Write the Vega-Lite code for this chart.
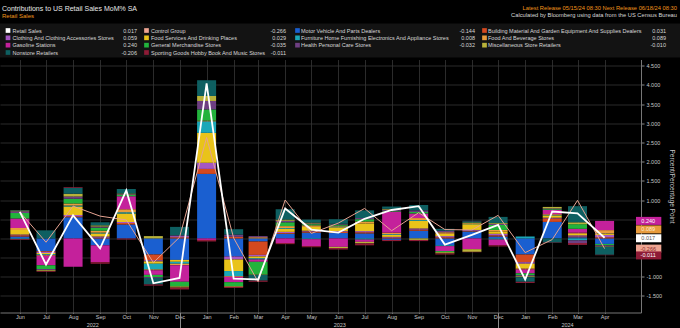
{
  "$schema": "https://vega.github.io/schema/vega-lite/v6.json",
  "background": "#000000",
  "padding": {"top": 4.5, "left": 0, "right": 0, "bottom": 0},
  "spacing": 2,
  "config": {
    "view": {"stroke": null},
    "font": "Liberation Sans",
    "title": {"fontWeight": "normal", "font": "Liberation Sans", "subtitleFont": "Liberation Sans"},
    "axis": {"labelFont": "Liberation Sans", "titleFont": "Liberation Sans", "titleFontWeight": "normal"}
  },
  "title": {"text": "Contributions to US Retail Sales MoM% SA", "subtitle": "Retail Sales", "anchor": "start", "frame": "group", "fontSize": 7, "color": "#e8e8e8", "subtitleColor": "#f0961c", "subtitleFontSize": 6, "subtitlePadding": 1, "offset": -14.5, "dx": 2},
  "datasets": {
    "names": [
      {"s": "RS", "name": "Retail Sales"},
      {"s": "CG", "name": "Control Group"},
      {"s": "MV", "name": "Motor Vehicle And Parts Dealers"},
      {"s": "BM", "name": "Building Material And Garden Equipment And Supplies Dealers"},
      {"s": "CL", "name": "Clothing And Clothing Accessories Stores"},
      {"s": "FS", "name": "Food Services And Drinking Places"},
      {"s": "FU", "name": "Furniture Home Furnishing Electronics And Appliance Stores"},
      {"s": "FB", "name": "Food And Beverage Stores"},
      {"s": "GS", "name": "Gasoline Stations"},
      {"s": "GM", "name": "General Merchandise Stores"},
      {"s": "HP", "name": "Health Personal Care Stores"},
      {"s": "MI", "name": "Miscellaneous Store Retailers"},
      {"s": "NS", "name": "Nonstore Retailers"},
      {"s": "SG", "name": "Sporting Goods Hobby Book And Music Stores"}
    ],
    "main": [
      {"d": "2022-06-01", "s": "RS", "v": 0.69}, {"d": "2022-06-01", "s": "CG", "v": 0.69}, {"d": "2022-06-01", "s": "MV", "v": 0.05}, {"d": "2022-06-01", "s": "BM", "v": 0.03}, {"d": "2022-06-01", "s": "CL", "v": 0.02}, {"d": "2022-06-01", "s": "FS", "v": 0.12}, {"d": "2022-06-01", "s": "FU", "v": -0.02}, {"d": "2022-06-01", "s": "FB", "v": 0.05}, {"d": "2022-06-01", "s": "GS", "v": 0.25}, {"d": "2022-06-01", "s": "GM", "v": 0.14}, {"d": "2022-06-01", "s": "HP", "v": 0.05}, {"d": "2022-06-01", "s": "MI", "v": 0.02}, {"d": "2022-06-01", "s": "NS", "v": 0.01}, {"d": "2022-06-01", "s": "SG", "v": -0.02},
      {"d": "2022-07-01", "s": "RS", "v": -0.68}, {"d": "2022-07-01", "s": "CG", "v": -0.10}, {"d": "2022-07-01", "s": "MV", "v": -0.33}, {"d": "2022-07-01", "s": "BM", "v": -0.02}, {"d": "2022-07-01", "s": "CL", "v": -0.03}, {"d": "2022-07-01", "s": "FS", "v": -0.03}, {"d": "2022-07-01", "s": "FU", "v": -0.02}, {"d": "2022-07-01", "s": "FB", "v": -0.02}, {"d": "2022-07-01", "s": "GS", "v": -0.25}, {"d": "2022-07-01", "s": "GM", "v": -0.10}, {"d": "2022-07-01", "s": "HP", "v": -0.03}, {"d": "2022-07-01", "s": "MI", "v": -0.02}, {"d": "2022-07-01", "s": "NS", "v": 0.21}, {"d": "2022-07-01", "s": "SG", "v": -0.02},
      {"d": "2022-08-01", "s": "RS", "v": 0.60}, {"d": "2022-08-01", "s": "CG", "v": 0.84}, {"d": "2022-08-01", "s": "MV", "v": 0.55}, {"d": "2022-08-01", "s": "BM", "v": 0.03}, {"d": "2022-08-01", "s": "CL", "v": 0.03}, {"d": "2022-08-01", "s": "FS", "v": 0.22}, {"d": "2022-08-01", "s": "FU", "v": 0.03}, {"d": "2022-08-01", "s": "FB", "v": 0.05}, {"d": "2022-08-01", "s": "GS", "v": -0.74}, {"d": "2022-08-01", "s": "GM", "v": 0.12}, {"d": "2022-08-01", "s": "HP", "v": 0.06}, {"d": "2022-08-01", "s": "MI", "v": 0.07}, {"d": "2022-08-01", "s": "NS", "v": 0.16}, {"d": "2022-08-01", "s": "SG", "v": 0.02},
      {"d": "2022-09-01", "s": "RS", "v": -0.26}, {"d": "2022-09-01", "s": "CG", "v": 0.58}, {"d": "2022-09-01", "s": "MV", "v": -0.18}, {"d": "2022-09-01", "s": "BM", "v": 0.02}, {"d": "2022-09-01", "s": "CL", "v": 0.03}, {"d": "2022-09-01", "s": "FS", "v": 0.08}, {"d": "2022-09-01", "s": "FU", "v": 0.02}, {"d": "2022-09-01", "s": "FB", "v": 0.05}, {"d": "2022-09-01", "s": "GS", "v": -0.44}, {"d": "2022-09-01", "s": "GM", "v": 0.08}, {"d": "2022-09-01", "s": "HP", "v": 0.03}, {"d": "2022-09-01", "s": "MI", "v": 0.03}, {"d": "2022-09-01", "s": "NS", "v": 0.08}, {"d": "2022-09-01", "s": "SG", "v": -0.04},
      {"d": "2022-10-01", "s": "RS", "v": 1.25}, {"d": "2022-10-01", "s": "CG", "v": 0.48}, {"d": "2022-10-01", "s": "MV", "v": 0.36}, {"d": "2022-10-01", "s": "BM", "v": 0.04}, {"d": "2022-10-01", "s": "CL", "v": 0.03}, {"d": "2022-10-01", "s": "FS", "v": 0.22}, {"d": "2022-10-01", "s": "FU", "v": 0.03}, {"d": "2022-10-01", "s": "FB", "v": 0.08}, {"d": "2022-10-01", "s": "GS", "v": 0.34}, {"d": "2022-10-01", "s": "GM", "v": 0.03}, {"d": "2022-10-01", "s": "HP", "v": 0.02}, {"d": "2022-10-01", "s": "MI", "v": 0.02}, {"d": "2022-10-01", "s": "NS", "v": 0.12}, {"d": "2022-10-01", "s": "SG", "v": -0.03},
      {"d": "2022-11-01", "s": "RS", "v": -1.17}, {"d": "2022-11-01", "s": "CG", "v": -0.63}, {"d": "2022-11-01", "s": "MV", "v": -0.42}, {"d": "2022-11-01", "s": "BM", "v": -0.15}, {"d": "2022-11-01", "s": "CL", "v": -0.03}, {"d": "2022-11-01", "s": "FS", "v": -0.06}, {"d": "2022-11-01", "s": "FU", "v": -0.15}, {"d": "2022-11-01", "s": "FB", "v": -0.02}, {"d": "2022-11-01", "s": "GS", "v": -0.12}, {"d": "2022-11-01", "s": "GM", "v": -0.06}, {"d": "2022-11-01", "s": "HP", "v": -0.02}, {"d": "2022-11-01", "s": "MI", "v": 0.06}, {"d": "2022-11-01", "s": "NS", "v": -0.17}, {"d": "2022-11-01", "s": "SG", "v": -0.03},
      {"d": "2022-12-01", "s": "RS", "v": -1.03}, {"d": "2022-12-01", "s": "CG", "v": 0.03}, {"d": "2022-12-01", "s": "MV", "v": -0.56}, {"d": "2022-12-01", "s": "BM", "v": 0.03}, {"d": "2022-12-01", "s": "CL", "v": 0.03}, {"d": "2022-12-01", "s": "FS", "v": -0.05}, {"d": "2022-12-01", "s": "FU", "v": -0.05}, {"d": "2022-12-01", "s": "FB", "v": -0.04}, {"d": "2022-12-01", "s": "GS", "v": -0.43}, {"d": "2022-12-01", "s": "GM", "v": -0.12}, {"d": "2022-12-01", "s": "HP", "v": 0.02}, {"d": "2022-12-01", "s": "MI", "v": -0.03}, {"d": "2022-12-01", "s": "NS", "v": 0.22}, {"d": "2022-12-01", "s": "SG", "v": -0.05},
      {"d": "2023-01-01", "s": "RS", "v": 4.04}, {"d": "2023-01-01", "s": "CG", "v": 2.63}, {"d": "2023-01-01", "s": "MV", "v": 1.68}, {"d": "2023-01-01", "s": "BM", "v": 0.13}, {"d": "2023-01-01", "s": "CL", "v": 0.16}, {"d": "2023-01-01", "s": "FS", "v": 0.78}, {"d": "2023-01-01", "s": "FU", "v": 0.30}, {"d": "2023-01-01", "s": "FB", "v": 0.02}, {"d": "2023-01-01", "s": "GS", "v": -0.04}, {"d": "2023-01-01", "s": "GM", "v": 0.29}, {"d": "2023-01-01", "s": "HP", "v": 0.22}, {"d": "2023-01-01", "s": "MI", "v": 0.13}, {"d": "2023-01-01", "s": "NS", "v": 0.41}, {"d": "2023-01-01", "s": "SG", "v": -0.04},
      {"d": "2023-02-01", "s": "RS", "v": -1.05}, {"d": "2023-02-01", "s": "CG", "v": 0.01}, {"d": "2023-02-01", "s": "MV", "v": -0.47}, {"d": "2023-02-01", "s": "BM", "v": 0.04}, {"d": "2023-02-01", "s": "CL", "v": -0.08}, {"d": "2023-02-01", "s": "FS", "v": -0.30}, {"d": "2023-02-01", "s": "FU", "v": -0.13}, {"d": "2023-02-01", "s": "FB", "v": -0.02}, {"d": "2023-02-01", "s": "GS", "v": -0.14}, {"d": "2023-02-01", "s": "GM", "v": -0.10}, {"d": "2023-02-01", "s": "HP", "v": 0.06}, {"d": "2023-02-01", "s": "MI", "v": -0.02}, {"d": "2023-02-01", "s": "NS", "v": 0.14}, {"d": "2023-02-01", "s": "SG", "v": -0.03},
      {"d": "2023-03-01", "s": "RS", "v": -1.07}, {"d": "2023-03-01", "s": "CG", "v": -1.13}, {"d": "2023-03-01", "s": "MV", "v": -0.08}, {"d": "2023-03-01", "s": "BM", "v": -0.35}, {"d": "2023-03-01", "s": "CL", "v": -0.04}, {"d": "2023-03-01", "s": "FS", "v": -0.05}, {"d": "2023-03-01", "s": "FU", "v": -0.03}, {"d": "2023-03-01", "s": "FB", "v": 0.03}, {"d": "2023-03-01", "s": "GS", "v": -0.06}, {"d": "2023-03-01", "s": "GM", "v": -0.33}, {"d": "2023-03-01", "s": "HP", "v": 0.03}, {"d": "2023-03-01", "s": "MI", "v": -0.01}, {"d": "2023-03-01", "s": "NS", "v": -0.15}, {"d": "2023-03-01", "s": "SG", "v": -0.03},
      {"d": "2023-04-01", "s": "RS", "v": 0.78}, {"d": "2023-04-01", "s": "CG", "v": 1.00}, {"d": "2023-04-01", "s": "MV", "v": 0.12}, {"d": "2023-04-01", "s": "BM", "v": 0.02}, {"d": "2023-04-01", "s": "CL", "v": 0.03}, {"d": "2023-04-01", "s": "FS", "v": 0.08}, {"d": "2023-04-01", "s": "FU", "v": 0.02}, {"d": "2023-04-01", "s": "FB", "v": 0.05}, {"d": "2023-04-01", "s": "GS", "v": -0.12}, {"d": "2023-04-01", "s": "GM", "v": 0.10}, {"d": "2023-04-01", "s": "HP", "v": 0.04}, {"d": "2023-04-01", "s": "MI", "v": 0.03}, {"d": "2023-04-01", "s": "NS", "v": 0.27}, {"d": "2023-04-01", "s": "SG", "v": -0.03},
      {"d": "2023-05-01", "s": "RS", "v": 0.23}, {"d": "2023-05-01", "s": "CG", "v": 0.13}, {"d": "2023-05-01", "s": "MV", "v": 0.15}, {"d": "2023-05-01", "s": "BM", "v": 0.03}, {"d": "2023-05-01", "s": "CL", "v": 0.02}, {"d": "2023-05-01", "s": "FS", "v": 0.10}, {"d": "2023-05-01", "s": "FU", "v": -0.02}, {"d": "2023-05-01", "s": "FB", "v": 0.04}, {"d": "2023-05-01", "s": "GS", "v": -0.18}, {"d": "2023-05-01", "s": "GM", "v": 0.03}, {"d": "2023-05-01", "s": "HP", "v": 0.02}, {"d": "2023-05-01", "s": "MI", "v": 0.02}, {"d": "2023-05-01", "s": "NS", "v": 0.08}, {"d": "2023-05-01", "s": "SG", "v": -0.03},
      {"d": "2023-06-01", "s": "RS", "v": 0.15}, {"d": "2023-06-01", "s": "CG", "v": 0.40}, {"d": "2023-06-01", "s": "MV", "v": 0.14}, {"d": "2023-06-01", "s": "BM", "v": 0.03}, {"d": "2023-06-01", "s": "CL", "v": 0.02}, {"d": "2023-06-01", "s": "FS", "v": 0.10}, {"d": "2023-06-01", "s": "FU", "v": 0.02}, {"d": "2023-06-01", "s": "FB", "v": 0.02}, {"d": "2023-06-01", "s": "GS", "v": -0.22}, {"d": "2023-06-01", "s": "GM", "v": 0.03}, {"d": "2023-06-01", "s": "HP", "v": 0.02}, {"d": "2023-06-01", "s": "MI", "v": -0.03}, {"d": "2023-06-01", "s": "NS", "v": 0.12}, {"d": "2023-06-01", "s": "SG", "v": -0.04},
      {"d": "2023-07-01", "s": "RS", "v": 0.51}, {"d": "2023-07-01", "s": "CG", "v": 0.78}, {"d": "2023-07-01", "s": "MV", "v": 0.13}, {"d": "2023-07-01", "s": "BM", "v": 0.03}, {"d": "2023-07-01", "s": "CL", "v": 0.03}, {"d": "2023-07-01", "s": "FS", "v": 0.20}, {"d": "2023-07-01", "s": "FU", "v": -0.03}, {"d": "2023-07-01", "s": "FB", "v": 0.05}, {"d": "2023-07-01", "s": "GS", "v": -0.06}, {"d": "2023-07-01", "s": "GM", "v": 0.06}, {"d": "2023-07-01", "s": "HP", "v": 0.03}, {"d": "2023-07-01", "s": "MI", "v": -0.04}, {"d": "2023-07-01", "s": "NS", "v": 0.20}, {"d": "2023-07-01", "s": "SG", "v": -0.05},
      {"d": "2023-08-01", "s": "RS", "v": 0.74}, {"d": "2023-08-01", "s": "CG", "v": 0.20}, {"d": "2023-08-01", "s": "MV", "v": -0.04}, {"d": "2023-08-01", "s": "BM", "v": 0.02}, {"d": "2023-08-01", "s": "CL", "v": 0.02}, {"d": "2023-08-01", "s": "FS", "v": 0.05}, {"d": "2023-08-01", "s": "FU", "v": 0.02}, {"d": "2023-08-01", "s": "FB", "v": 0.04}, {"d": "2023-08-01", "s": "GS", "v": 0.55}, {"d": "2023-08-01", "s": "GM", "v": 0.02}, {"d": "2023-08-01", "s": "HP", "v": 0.03}, {"d": "2023-08-01", "s": "MI", "v": 0.02}, {"d": "2023-08-01", "s": "NS", "v": 0.06}, {"d": "2023-08-01", "s": "SG", "v": -0.03},
      {"d": "2023-09-01", "s": "RS", "v": 0.84}, {"d": "2023-09-01", "s": "CG", "v": 0.67}, {"d": "2023-09-01", "s": "MV", "v": 0.20}, {"d": "2023-09-01", "s": "BM", "v": 0.03}, {"d": "2023-09-01", "s": "CL", "v": 0.03}, {"d": "2023-09-01", "s": "FS", "v": 0.20}, {"d": "2023-09-01", "s": "FU", "v": 0.02}, {"d": "2023-09-01", "s": "FB", "v": 0.05}, {"d": "2023-09-01", "s": "GS", "v": 0.12}, {"d": "2023-09-01", "s": "GM", "v": 0.04}, {"d": "2023-09-01", "s": "HP", "v": 0.04}, {"d": "2023-09-01", "s": "MI", "v": -0.04}, {"d": "2023-09-01", "s": "NS", "v": 0.14}, {"d": "2023-09-01", "s": "SG", "v": -0.03},
      {"d": "2023-10-01", "s": "RS", "v": -0.16}, {"d": "2023-10-01", "s": "CG", "v": 0.23}, {"d": "2023-10-01", "s": "MV", "v": -0.18}, {"d": "2023-10-01", "s": "BM", "v": 0.03}, {"d": "2023-10-01", "s": "CL", "v": 0.03}, {"d": "2023-10-01", "s": "FS", "v": 0.06}, {"d": "2023-10-01", "s": "FU", "v": -0.02}, {"d": "2023-10-01", "s": "FB", "v": 0.04}, {"d": "2023-10-01", "s": "GS", "v": -0.13}, {"d": "2023-10-01", "s": "GM", "v": -0.03}, {"d": "2023-10-01", "s": "HP", "v": 0.04}, {"d": "2023-10-01", "s": "MI", "v": -0.03}, {"d": "2023-10-01", "s": "NS", "v": 0.05}, {"d": "2023-10-01", "s": "SG", "v": -0.03},
      {"d": "2023-11-01", "s": "RS", "v": 0.09}, {"d": "2023-11-01", "s": "CG", "v": 0.22}, {"d": "2023-11-01", "s": "MV", "v": 0.18}, {"d": "2023-11-01", "s": "BM", "v": 0.02}, {"d": "2023-11-01", "s": "CL", "v": 0.02}, {"d": "2023-11-01", "s": "FS", "v": 0.15}, {"d": "2023-11-01", "s": "FU", "v": 0.01}, {"d": "2023-11-01", "s": "FB", "v": 0.02}, {"d": "2023-11-01", "s": "GS", "v": -0.28}, {"d": "2023-11-01", "s": "GM", "v": 0.02}, {"d": "2023-11-01", "s": "HP", "v": 0.02}, {"d": "2023-11-01", "s": "MI", "v": -0.07}, {"d": "2023-11-01", "s": "NS", "v": 0.02}, {"d": "2023-11-01", "s": "SG", "v": -0.01},
      {"d": "2023-12-01", "s": "RS", "v": 0.35}, {"d": "2023-12-01", "s": "CG", "v": 0.60}, {"d": "2023-12-01", "s": "MV", "v": 0.05}, {"d": "2023-12-01", "s": "BM", "v": 0.03}, {"d": "2023-12-01", "s": "CL", "v": 0.04}, {"d": "2023-12-01", "s": "FS", "v": 0.06}, {"d": "2023-12-01", "s": "FU", "v": -0.03}, {"d": "2023-12-01", "s": "FB", "v": 0.04}, {"d": "2023-12-01", "s": "GS", "v": -0.15}, {"d": "2023-12-01", "s": "GM", "v": 0.13}, {"d": "2023-12-01", "s": "HP", "v": 0.03}, {"d": "2023-12-01", "s": "MI", "v": 0.02}, {"d": "2023-12-01", "s": "NS", "v": 0.16}, {"d": "2023-12-01", "s": "SG", "v": -0.03},
      {"d": "2024-01-01", "s": "RS", "v": -1.07}, {"d": "2024-01-01", "s": "CG", "v": -0.37}, {"d": "2024-01-01", "s": "MV", "v": -0.42}, {"d": "2024-01-01", "s": "BM", "v": -0.20}, {"d": "2024-01-01", "s": "CL", "v": -0.04}, {"d": "2024-01-01", "s": "FS", "v": -0.12}, {"d": "2024-01-01", "s": "FU", "v": 0.05}, {"d": "2024-01-01", "s": "FB", "v": -0.03}, {"d": "2024-01-01", "s": "GS", "v": -0.10}, {"d": "2024-01-01", "s": "GM", "v": -0.05}, {"d": "2024-01-01", "s": "HP", "v": -0.03}, {"d": "2024-01-01", "s": "MI", "v": -0.02}, {"d": "2024-01-01", "s": "NS", "v": -0.12}, {"d": "2024-01-01", "s": "SG", "v": -0.03},
      {"d": "2024-02-01", "s": "RS", "v": 0.70}, {"d": "2024-02-01", "s": "CG", "v": -0.03}, {"d": "2024-02-01", "s": "MV", "v": 0.43}, {"d": "2024-02-01", "s": "BM", "v": 0.09}, {"d": "2024-02-01", "s": "CL", "v": 0.02}, {"d": "2024-02-01", "s": "FS", "v": 0.06}, {"d": "2024-02-01", "s": "FU", "v": 0.01}, {"d": "2024-02-01", "s": "FB", "v": 0.02}, {"d": "2024-02-01", "s": "GS", "v": 0.11}, {"d": "2024-02-01", "s": "GM", "v": 0.02}, {"d": "2024-02-01", "s": "HP", "v": 0.02}, {"d": "2024-02-01", "s": "MI", "v": 0.04}, {"d": "2024-02-01", "s": "NS", "v": -0.11}, {"d": "2024-02-01", "s": "SG", "v": -0.01},
      {"d": "2024-03-01", "s": "RS", "v": 0.65}, {"d": "2024-03-01", "s": "CG", "v": 0.99}, {"d": "2024-03-01", "s": "MV", "v": 0.03}, {"d": "2024-03-01", "s": "BM", "v": 0.02}, {"d": "2024-03-01", "s": "CL", "v": 0.03}, {"d": "2024-03-01", "s": "FS", "v": 0.04}, {"d": "2024-03-01", "s": "FU", "v": -0.05}, {"d": "2024-03-01", "s": "FB", "v": 0.03}, {"d": "2024-03-01", "s": "GS", "v": 0.10}, {"d": "2024-03-01", "s": "GM", "v": 0.12}, {"d": "2024-03-01", "s": "HP", "v": -0.07}, {"d": "2024-03-01", "s": "MI", "v": 0.05}, {"d": "2024-03-01", "s": "NS", "v": 0.42}, {"d": "2024-03-01", "s": "SG", "v": -0.05},
      {"d": "2024-04-01", "s": "RS", "v": 0.017}, {"d": "2024-04-01", "s": "CG", "v": -0.266}, {"d": "2024-04-01", "s": "MV", "v": -0.144}, {"d": "2024-04-01", "s": "BM", "v": 0.031}, {"d": "2024-04-01", "s": "CL", "v": 0.059}, {"d": "2024-04-01", "s": "FS", "v": 0.029}, {"d": "2024-04-01", "s": "FU", "v": 0.008}, {"d": "2024-04-01", "s": "FB", "v": 0.089}, {"d": "2024-04-01", "s": "GS", "v": 0.240}, {"d": "2024-04-01", "s": "GM", "v": -0.035}, {"d": "2024-04-01", "s": "HP", "v": -0.032}, {"d": "2024-04-01", "s": "MI", "v": -0.010}, {"d": "2024-04-01", "s": "NS", "v": -0.206}, {"d": "2024-04-01", "s": "SG", "v": -0.011}
    ]
  },
  "vconcat": [
    {
      "width": 680, "height": 34,
      "view": {"fill": "#131313", "stroke": null},
      "title": {"text": "Latest Release 05/15/24 08:30  Next Release 06/18/24 08:30", "subtitle": "Calculated by Bloomberg using data from the US Census Bureau", "anchor": "end", "frame": "group", "fontSize": 5.75, "color": "#f0961c", "subtitleColor": "#d8d8d8", "subtitleFontSize": 5.75, "subtitlePadding": 2, "offset": 5.5, "dx": -3},
      "data": {"name": "main"},
      "transform": [
        {"filter": "utcyear(toDate(datum.d)) == 2024 && utcmonth(toDate(datum.d)) == 3"},
        {"lookup": "s", "from": {"data": {"name": "names"}, "key": "s", "fields": ["name"]}},
        {"calculate": "indexof(['RS','CG','MV','BM','CL','FS','FU','FB','GS','GM','HP','MI','NS','SG'], datum.s)", "as": "idx"},
        {"calculate": "datum.idx % 4", "as": "col"},
        {"calculate": "floor(datum.idx / 4)", "as": "row"},
        {"calculate": "replace(format(datum.v, '.3f'), '\u2212', '-')", "as": "lab"}
      ],
      "encoding": {
        "y": {"field": "row", "type": "quantitative", "scale": {"domain": [0, 3], "range": [7, 29], "nice": false, "zero": false}, "axis": null}
      },
      "layer": [
        {
          "mark": {"type": "square", "size": 22, "opacity": 1, "filled": true},
          "encoding": {
            "x": {"field": "col", "type": "quantitative", "scale": {"domain": [0, 1, 2, 3], "range": [8, 146.5, 297.5, 484.5], "nice": false, "zero": false}, "axis": null},
            "color": {"field": "s", "type": "nominal", "legend": null}
          }
        },
        {
          "mark": {"type": "text", "align": "left", "baseline": "middle", "fontSize": 5.5, "color": "#d8d8d8"},
          "encoding": {
            "x": {"field": "col", "type": "quantitative", "scale": {"domain": [0, 1, 2, 3], "range": [12.5, 151, 301, 488], "nice": false, "zero": false}, "axis": null},
            "text": {"field": "name"}
          }
        },
        {
          "mark": {"type": "text", "align": "right", "baseline": "middle", "fontSize": 5.5, "color": "#d8d8d8"},
          "encoding": {
            "x": {"field": "col", "type": "quantitative", "scale": {"domain": [0, 1, 2, 3], "range": [137, 286, 475, 666], "nice": false, "zero": false}, "axis": null},
            "text": {"field": "lab"}
          }
        }
      ],
      "resolve": {"scale": {"x": "independent"}}
    },
    {
      "width": 641, "height": 253,
      "data": {"name": "main"},
      "layer": [
        {
          "transform": [
            {"filter": "datum.s != 'RS' && datum.s != 'CG'"},
            {"calculate": "indexof(['RS','CG','MV','BM','CL','FS','FU','FB','GS','GM','HP','MI','NS','SG'], datum.s)", "as": "si"}
          ],
          "mark": {"type": "bar", "size": 19},
          "encoding": {
            "x": {
              "field": "d", "type": "temporal",
              "scale": {"type": "utc", "domain": [{"year": 2022, "month": 5, "date": 15, "utc": true}, {"year": 2024, "month": 5, "date": 7, "utc": true}]},
              "axis": {
                "orient": "bottom",
                "values": [
                  {"year": 2022, "month": 6, "date": 1, "utc": true}, {"year": 2022, "month": 7, "date": 1, "utc": true}, {"year": 2022, "month": 8, "date": 1, "utc": true}, {"year": 2022, "month": 9, "date": 1, "utc": true}, {"year": 2022, "month": 10, "date": 1, "utc": true}, {"year": 2022, "month": 11, "date": 1, "utc": true}, {"year": 2022, "month": 12, "date": 1, "utc": true},
                  {"year": 2023, "month": 1, "date": 1, "utc": true}, {"year": 2023, "month": 2, "date": 1, "utc": true}, {"year": 2023, "month": 3, "date": 1, "utc": true}, {"year": 2023, "month": 4, "date": 1, "utc": true}, {"year": 2023, "month": 5, "date": 1, "utc": true}, {"year": 2023, "month": 6, "date": 1, "utc": true}, {"year": 2023, "month": 7, "date": 1, "utc": true}, {"year": 2023, "month": 8, "date": 1, "utc": true}, {"year": 2023, "month": 9, "date": 1, "utc": true}, {"year": 2023, "month": 10, "date": 1, "utc": true}, {"year": 2023, "month": 11, "date": 1, "utc": true}, {"year": 2023, "month": 12, "date": 1, "utc": true},
                  {"year": 2024, "month": 1, "date": 1, "utc": true}, {"year": 2024, "month": 2, "date": 1, "utc": true}, {"year": 2024, "month": 3, "date": 1, "utc": true}, {"year": 2024, "month": 4, "date": 1, "utc": true}
                ],
                "format": "%b", "title": null, "labelFontSize": 5.5, "labelColor": "#c8c8c8", "labelPadding": 0.5, "labelFlush": false, "labelOverlap": false,
                "tickSize": 1, "tickColor": "#666666", "domainColor": "#777777", "grid": true, "gridColor": "#363636", "gridWidth": 0.8
              }
            },
            "y": {
              "field": "v", "type": "quantitative",
              "scale": {"domain": [-1.93, 4.66], "nice": false, "zero": false},
              "axis": {
                "orient": "right", "values": [-1.5, -1, -0.5, 0, 0.5, 1, 1.5, 2, 2.5, 3, 3.5, 4, 4.5],
                "labelExpr": "abs(datum.value) < 0.6 ? '' : replace(format(datum.value, '.3f'), '\u2212', '-')",
                "labelFontSize": 5.5, "labelColor": "#c8c8c8", "labelPadding": 2, "tickSize": 3, "tickColor": "#888888", "domainColor": "#777777",
                "grid": true, "gridColor": "#363636", "gridWidth": 0.8,
                "title": "Percent/Percentage Point", "titleFontSize": 6.5, "titleColor": "#c8c8c8", "titlePadding": 7
              }
            },
            "color": {
              "field": "s", "type": "nominal",
              "scale": {
                "domain": ["RS", "CG", "MV", "BM", "CL", "FS", "FU", "FB", "GS", "GM", "HP", "MI", "NS", "SG"],
                "range": ["#ffffff", "#eea592", "#1a5fd0", "#d4491f", "#a457c2", "#e9c31a", "#1aa7b8", "#e89b3c", "#c4219b", "#22b33c", "#6e3f82", "#b8b23a", "#0e5f61", "#8e1b36"]
              },
              "legend": null
            },
            "order": {"field": "si", "type": "quantitative"}
          }
        },
        {
          "transform": [{"filter": "datum.s == 'CG'"}],
          "mark": {"type": "line", "color": "#e6a391", "strokeWidth": 1},
          "encoding": {
            "x": {
              "field": "d", "type": "temporal",
              "axis": {
                "orient": "bottom",
                "values": [{"year": 2022, "month": 8, "date": 23, "utc": true}, {"year": 2023, "month": 6, "date": 2, "utc": true}, {"year": 2024, "month": 2, "date": 18, "utc": true}],
                "format": "%Y", "title": null, "ticks": false, "domain": false, "grid": false, "labelPadding": 10, "labelFontSize": 5.5, "labelColor": "#c8c8c8", "labelFlush": false, "labelOverlap": false
              }
            },
            "y": {"field": "v", "type": "quantitative", "axis": null}
          }
        },
        {
          "transform": [{"filter": "datum.s == 'RS'"}],
          "mark": {"type": "line", "color": "#ffffff", "strokeWidth": 1.8},
          "encoding": {
            "x": {
              "field": "d", "type": "temporal",
              "axis": {
                "orient": "bottom",
                "values": [{"year": 2022, "month": 12, "date": 1, "utc": true}, {"year": 2023, "month": 12, "date": 1, "utc": true}],
                "title": null, "labels": false, "domain": false, "grid": false, "tickSize": 15, "tickColor": "#8a8a8a"
              }
            },
            "y": {"field": "v", "type": "quantitative", "axis": null}
          }
        },
        {
          "transform": [
            {"filter": "utcyear(toDate(datum.d)) == 2024 && utcmonth(toDate(datum.d)) == 3 && indexof(['GS','FB','RS','CG','SG'], datum.s) >= 0"},
            {"calculate": "replace(format(datum.v, '.3f'), '\u2212', '-')", "as": "lab"}
          ],
          "layer": [
            {
              "transform": [{"filter": "datum.s == 'GS'"}],
              "layer": [
                {"mark": {"type": "rect", "color": "#c4219b", "yOffset": -12.3, "y2Offset": -4.3},
                 "encoding": {"x": {"datum": {"year": 2024, "month": 5, "date": 7, "utc": true}, "type": "temporal", "scale": {"type": "utc", "domain": [{"year": 2022, "month": 5, "date": 15, "utc": true}, {"year": 2024, "month": 5, "date": 7, "utc": true}]}, "axis": null}, "x2": {"datum": {"year": 2024, "month": 6, "date": 5, "utc": true}}, "y": {"field": "v", "type": "quantitative", "axis": null}, "y2": {"field": "v"}}},
                {"mark": {"type": "text", "color": "#ffffff", "fontSize": 5.5, "baseline": "middle", "yOffset": -8.3},
                 "encoding": {"x": {"datum": {"year": 2024, "month": 5, "date": 21, "utc": true}, "type": "temporal", "axis": null}, "y": {"field": "v", "type": "quantitative", "axis": null}, "text": {"field": "lab"}}}
              ]
            },
            {
              "transform": [{"filter": "datum.s == 'FB'"}],
              "layer": [
                {"mark": {"type": "rect", "color": "#e89b3c", "yOffset": -9.6, "y2Offset": -1.6},
                 "encoding": {"x": {"datum": {"year": 2024, "month": 5, "date": 7, "utc": true}, "type": "temporal", "axis": null}, "x2": {"datum": {"year": 2024, "month": 6, "date": 5, "utc": true}}, "y": {"field": "v", "type": "quantitative", "axis": null}, "y2": {"field": "v"}}},
                {"mark": {"type": "text", "color": "#fdebd3", "fontSize": 5.5, "baseline": "middle", "yOffset": -5.6},
                 "encoding": {"x": {"datum": {"year": 2024, "month": 5, "date": 21, "utc": true}, "type": "temporal", "axis": null}, "y": {"field": "v", "type": "quantitative", "axis": null}, "text": {"field": "lab"}}}
              ]
            },
            {
              "transform": [{"filter": "datum.s == 'RS'"}],
              "layer": [
                {"mark": {"type": "rect", "color": "#ffffff", "yOffset": -3.5, "y2Offset": 4.5},
                 "encoding": {"x": {"datum": {"year": 2024, "month": 5, "date": 7, "utc": true}, "type": "temporal", "axis": null}, "x2": {"datum": {"year": 2024, "month": 6, "date": 5, "utc": true}}, "y": {"field": "v", "type": "quantitative", "axis": null}, "y2": {"field": "v"}}},
                {"mark": {"type": "text", "color": "#555555", "fontSize": 5.5, "baseline": "middle", "yOffset": 0.5},
                 "encoding": {"x": {"datum": {"year": 2024, "month": 5, "date": 21, "utc": true}, "type": "temporal", "axis": null}, "y": {"field": "v", "type": "quantitative", "axis": null}, "text": {"field": "lab"}}}
              ]
            },
            {
              "transform": [{"filter": "datum.s == 'CG'"}],
              "layer": [
                {"mark": {"type": "rect", "color": "#eea592", "yOffset": -4, "y2Offset": 4},
                 "encoding": {"x": {"datum": {"year": 2024, "month": 5, "date": 7, "utc": true}, "type": "temporal", "axis": null}, "x2": {"datum": {"year": 2024, "month": 6, "date": 5, "utc": true}}, "y": {"field": "v", "type": "quantitative", "axis": null}, "y2": {"field": "v"}}},
                {"mark": {"type": "text", "color": "#8a2a2a", "fontSize": 5.5, "baseline": "middle", "yOffset": 0},
                 "encoding": {"x": {"datum": {"year": 2024, "month": 5, "date": 21, "utc": true}, "type": "temporal", "axis": null}, "y": {"field": "v", "type": "quantitative", "axis": null}, "text": {"field": "lab"}}}
              ]
            },
            {
              "transform": [{"filter": "datum.s == 'SG'"}],
              "layer": [
                {"mark": {"type": "rect", "color": "#8e1b36", "yOffset": 12.6, "y2Offset": 20.6},
                 "encoding": {"x": {"datum": {"year": 2024, "month": 5, "date": 7, "utc": true}, "type": "temporal", "axis": null}, "x2": {"datum": {"year": 2024, "month": 6, "date": 5, "utc": true}}, "y": {"field": "v", "type": "quantitative", "axis": null}, "y2": {"field": "v"}}},
                {"mark": {"type": "text", "color": "#ffffff", "fontSize": 5.5, "baseline": "middle", "yOffset": 16.6},
                 "encoding": {"x": {"datum": {"year": 2024, "month": 5, "date": 21, "utc": true}, "type": "temporal", "axis": null}, "y": {"field": "v", "type": "quantitative", "axis": null}, "text": {"field": "lab"}}}
              ]
            }
          ]
        }
      ],
      "resolve": {"axis": {"x": "independent", "y": "independent"}}
    }
  ]
}
